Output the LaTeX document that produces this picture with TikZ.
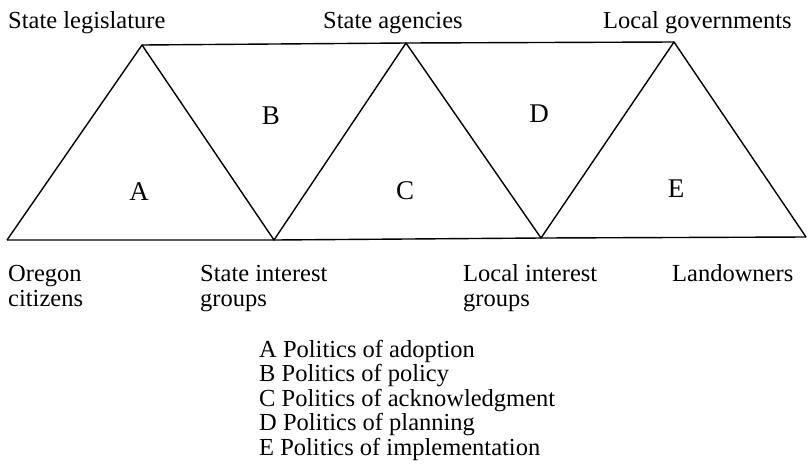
\documentclass[tikz,border=0pt]{standalone}
\usepackage{fontspec}
\setmainfont{Liberation Serif}
\begin{document}
\begin{tikzpicture}[x=1pt,y=-1pt,
  lbl/.style={inner sep=0pt,anchor=base west,font=\fontsize{24.5}{25}\selectfont,align=left},
  letter/.style={inner sep=0pt,anchor=base,font=\fontsize{27}{27}\selectfont},
  edge/.style={line width=1.4pt,line join=round}]
\useasboundingbox (0,0) rectangle (808,467);
% vertices
\coordinate (t1) at (142,45);
\coordinate (t2) at (406,43);
\coordinate (t3) at (674,42);
\coordinate (b1) at (7,240);
\coordinate (b2) at (274,240);
\coordinate (b3) at (541,238);
\coordinate (b4) at (806,237);
\draw[edge] (b1) -- (t1) -- (b2) -- (t2) -- (b3) -- (t3) -- (b4);
\draw[edge] (t1) -- (t2) -- (t3);
\draw[edge] (b1) -- (b2) -- (b3) -- (b4);
% top labels
\node[lbl] (sl) at (8,28) {State legislature};
\node[lbl] (sa) at (323,28) {State agencies};
\node[lbl] (lg) at (603,28) {Local governments};
% region letters
\node[letter] (A) at (139,200) {A};
\node[letter] (B) at (271,124) {B};
\node[letter] (C) at (405,199) {C};
\node[letter] (D) at (539,122) {D};
\node[letter] (E) at (676,197) {E};
% bottom labels (anchor base = baseline of last line)
\node[lbl] (oc) at (8,306) {Oregon\\citizens};
\node[lbl] (sig) at (200,306) {State interest\\groups};
\node[lbl] (lig) at (463,306) {Local interest\\groups};
\node[lbl] (lo) at (672,281) {Landowners};
% legend
\node[lbl,font=\fontsize{24.5}{24.5}\selectfont] (leg) at (259,455) {A Politics of adoption\\B Politics of policy\\C Politics of acknowledgment\\D Politics of planning\\E Politics of implementation};
\end{tikzpicture}
\end{document}
